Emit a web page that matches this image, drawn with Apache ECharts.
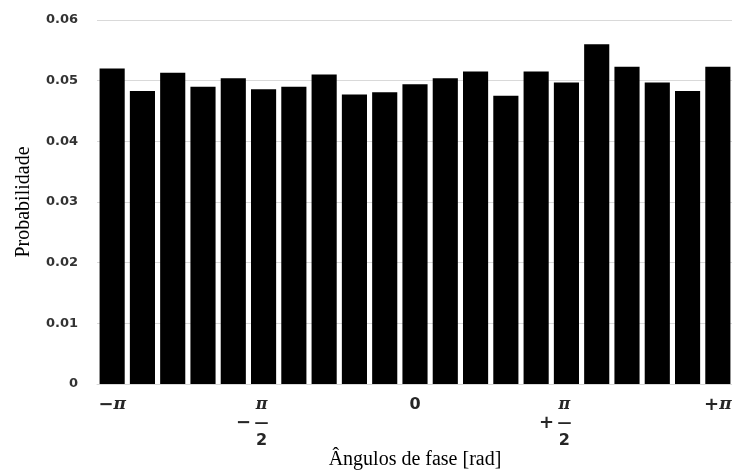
<!DOCTYPE html>
<html>
<head>
<meta charset="utf-8">
<script src="https://cdn.jsdelivr.net/npm/echarts@6/dist/echarts.min.js"></script>
<style>
html,body{margin:0;padding:0;background:#fff;}
#chart{width:732px;height:472px;}
</style>
</head>
<body>
<div id="chart"></div>
<script>
const categories = ['b01','b02','b03','b04','b05','b06','b07','b08','b09','b10','b11','b12','b13','b14','b15','b16','b17','b18','b19','b20','b21'];
const probabilities = [0.0520,0.0483,0.0513,0.0490,0.0504,0.0486,0.0490,0.0510,0.0477,0.0481,0.0494,0.0504,0.0515,0.0475,0.0515,0.0497,0.0560,0.0523,0.0497,0.0483,0.0523];
const tickLabelIndex = [0, 5, 10, 15, 20];
const tickLabelText = ['−π', '−π/2', '0', '+π/2', '+π'];
const yTicks = [0, 0.01, 0.02, 0.03, 0.04, 0.05, 0.06];

function richFor(t) {
  if (t.indexOf('/2') >= 0) {
    const sign = t.charAt(0) === '−' ? '−' : '+';
    return '{m| }{f|π}{p| }\n{m|' + sign + '}{bar|—}{p| }\n{m| }{n|2}{p| }';
  }
  if (t === '0') return '{z|0}';
  const sign = t.charAt(0);
  return '{s|' + sign + '}{pi|π}';
}

const chart = echarts.init(document.getElementById('chart'));
chart.setOption({
  animation: false,
  grid: { left: 97, top: 20, bottom: 88, width: 636, containLabel: false, outerBoundsMode: 'none' },
  xAxis: {
    type: 'category',
    data: categories,
    name: 'Ângulos de fase [rad]',
    nameLocation: 'middle',
    nameGap: 66,
    nameMoveOverlap: false,
    nameTextStyle: { fontFamily: 'Liberation Serif', fontSize: 20, color: '#000' },
    axisLine: { lineStyle: { color: '#d9d9d9' } },
    axisTick: { show: false },
    axisLabel: {
      interval: 0,
      margin: 12,
      formatter: function (v, i) {
        const k = tickLabelIndex.indexOf(i);
        return k < 0 ? '' : richFor(tickLabelText[k]);
      },
      fontFamily: 'DejaVu Sans',
      fontWeight: 'bold',
      fontSize: 16,
      lineHeight: 18,
      color: '#262626',
      rich: {
        m: { width: 22, align: 'center', fontFamily: 'DejaVu Sans', fontSize: 18, lineHeight: 18, color: '#262626' },
        f: { width: 14, align: 'center', fontFamily: 'DejaVu Serif', fontStyle: 'italic', fontWeight: 'bold', fontSize: 16, lineHeight: 18, color: '#262626' },
        bar: { width: 14, align: 'center', fontFamily: 'DejaVu Sans', fontSize: 14, lineHeight: 18, color: '#262626' },
        n: { width: 14, align: 'center', fontFamily: 'DejaVu Sans', fontWeight: 'bold', fontSize: 16, lineHeight: 18, color: '#262626' },
        p: { width: 26, align: 'center', fontSize: 16, lineHeight: 18 },
        z: { fontFamily: 'DejaVu Sans', fontWeight: 'bold', fontSize: 16, lineHeight: 18, color: '#262626' },
        s: { fontFamily: 'DejaVu Sans', fontSize: 18, lineHeight: 18, color: '#262626' },
        pi: { fontFamily: 'DejaVu Serif', fontStyle: 'italic', fontWeight: 'bold', fontSize: 17, lineHeight: 18, color: '#262626' }
      }
    }
  },
  yAxis: {
    type: 'value',
    min: yTicks[0],
    max: yTicks[yTicks.length - 1],
    interval: 0.01,
    name: 'Probabilidade',
    nameLocation: 'middle',
    nameGap: 63,
    nameMoveOverlap: false,
    nameTextStyle: { fontFamily: 'Liberation Serif', fontSize: 20, color: '#000' },
    axisLine: { show: false },
    axisTick: { show: false },
    splitLine: { lineStyle: { color: '#d9d9d9', width: 1 } },
    axisLabel: {
      margin: 19,
      fontFamily: 'DejaVu Sans',
      fontWeight: 'bold',
      fontSize: 13,
      color: '#333',
      formatter: function (v) { return v === 0 ? '0' : v.toFixed(2); }
    }
  },
  series: [{
    type: 'bar',
    data: probabilities,
    barCategoryGap: '17%',
    itemStyle: { color: '#000' }
  }]
});
</script>
</body>
</html>
